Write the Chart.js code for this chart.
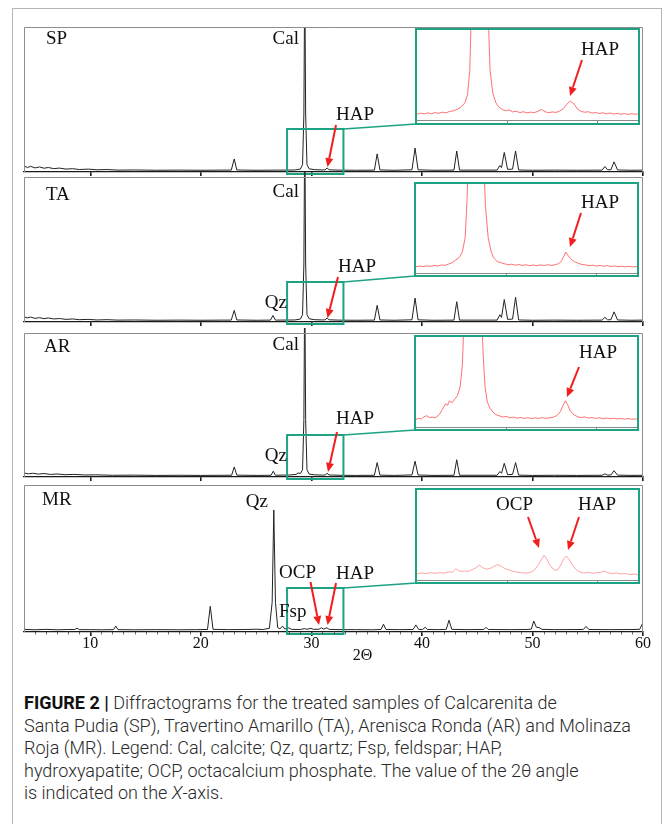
<!DOCTYPE html>
<html>
<head>
<meta charset="utf-8">
<script src="https://cdn.jsdelivr.net/npm/chart.js@4.4.1/dist/chart.umd.min.js"></script>
<style>
  html, body { margin: 0; padding: 0; background: #fff; }
  #figure { position: relative; width: 663px; height: 824px; overflow: hidden; }
  #frame { position: absolute; left: 12px; top: 8px; width: 650px; height: 900px;
           border: 1.5px solid #b5b5b5; box-sizing: border-box; }
  #figure canvas { position: absolute; }
  #caption { position: absolute; left: 24px; top: 692px; white-space: nowrap;
             font-family: Roboto, 'Liberation Sans', sans-serif; font-weight: 300;
             font-size: 18.5px; line-height: 22.5px; color: #2a2a2a; transform-origin: 0 0; }
  #caption b { font-weight: 700; color: #111; }
</style>
</head>
<body>
<div id="figure">
  <div id="frame"></div>
  <div id="caption">
    <div class="ln"><b>FIGURE 2 |</b> Diffractograms for the treated samples of Calcarenita de</div>
    <div class="ln" id="capWide">Santa Pudia (SP), Travertino Amarillo (TA), Arenisca Ronda (AR) and Molinaza</div>
    <div class="ln">Roja (MR). Legend: Cal, calcite; Qz, quartz; Fsp, feldspar; HAP,</div>
    <div class="ln">hydroxyapatite; OCP, octacalcium phosphate. The value of the 2θ angle</div>
    <div class="ln">is indicated on the <i>X</i>-axis.</div>
  </div>
</div>
<script>
// diffractograms, [2θ (deg), intensity (% of panel height)]
const spScan = [
  [4.0, 4.2], [4.3, 3.1], [4.6, 3.9], [5.0, 2.8], [5.4, 3.5], [5.8, 2.6], [6.2, 3.1], [6.7, 2.3],
  [7.2, 2.7], [7.8, 2.0], [8.4, 2.3], [9.0, 1.7], [9.8, 2.0], [10.6, 1.5], [11.5, 1.7], [12.5, 1.3],
  [14.0, 1.4], [16.0, 1.2], [18.0, 1.3], [20.0, 1.2], [22.0, 1.3], [22.75, 1.3], [23.02, 9.0],
  [23.25, 1.4], [25.0, 1.2], [27.0, 1.3], [28.5, 1.4], [29.0, 2.0], [29.2, 5.0], [29.32, 40],
  [29.4, 140], [29.48, 40], [29.6, 5.0], [29.8, 2.2], [30.3, 1.6], [31.0, 1.4], [31.25, 1.5],
  [31.42, 2.8], [31.6, 1.5], [32.5, 1.3], [34.0, 1.2], [35.7, 1.3], [35.95, 12.5], [36.2, 1.4],
  [37.5, 1.2], [39.1, 1.5], [39.38, 16.5], [39.65, 1.5], [41.0, 1.2], [42.9, 1.3], [43.15, 14.5],
  [43.4, 1.3], [46.8, 1.3], [47.05, 4.5], [47.2, 3.0], [47.45, 13.5], [47.75, 1.8], [48.2, 2.0],
  [48.47, 14.5], [48.75, 1.4], [50.0, 1.2], [52.0, 1.3], [54.0, 1.2], [56.3, 1.3], [56.55, 3.8],
  [56.8, 1.5], [57.1, 1.6], [57.38, 7.0], [57.7, 1.4], [59.0, 1.2], [60.0, 1.3]
];
const taScan = [
  [4.0, 3.6], [4.3, 2.8], [4.6, 3.4], [5.0, 2.5], [5.4, 3.0], [5.8, 2.3], [6.2, 2.8], [6.7, 2.1],
  [7.2, 2.4], [7.8, 1.8], [8.4, 2.1], [9.0, 1.6], [9.8, 1.8], [10.6, 1.4], [11.5, 1.6], [12.5, 1.3],
  [14.0, 1.4], [16.0, 1.2], [18.0, 1.3], [20.0, 1.2], [22.0, 1.3], [22.75, 1.3], [23.02, 8.0],
  [23.25, 1.4], [25.0, 1.2], [26.3, 1.3], [26.52, 4.5], [26.75, 1.3], [28.5, 1.4], [29.0, 2.0],
  [29.2, 5.0], [29.32, 40], [29.4, 140], [29.48, 40], [29.6, 5.0], [29.8, 2.2], [30.3, 1.6],
  [31.0, 1.4], [31.25, 1.5], [31.42, 2.8], [31.6, 1.5], [32.5, 1.3], [34.0, 1.2], [35.7, 1.3],
  [35.95, 11.5], [36.2, 1.4], [37.5, 1.2], [39.1, 1.5], [39.38, 16.5], [39.65, 1.5], [41.0, 1.2],
  [42.9, 1.3], [43.15, 14.0], [43.4, 1.3], [46.8, 1.3], [47.05, 5.0], [47.2, 3.2], [47.45, 15.5],
  [47.75, 1.8], [48.2, 2.0], [48.47, 17.0], [48.75, 1.4], [50.0, 1.2], [52.0, 1.3], [54.0, 1.2],
  [56.3, 1.3], [56.55, 3.2], [56.8, 1.5], [57.1, 1.6], [57.38, 7.0], [57.7, 1.4], [59.0, 1.2],
  [60.0, 1.3]
];
const arScan = [
  [4.0, 2.8], [4.4, 2.2], [4.8, 2.6], [5.3, 2.0], [5.8, 2.4], [6.4, 1.8], [7.0, 2.1], [7.7, 1.6],
  [8.5, 1.8], [9.5, 1.4], [10.5, 1.5], [12.0, 1.2], [14.0, 1.3], [16.0, 1.1], [18.0, 1.2],
  [20.0, 1.1], [22.0, 1.2], [22.78, 1.2], [23.02, 7.0], [23.25, 1.3], [25.0, 1.1], [26.35, 1.2],
  [26.55, 4.0], [26.75, 1.2], [28.0, 1.4], [28.6, 1.8], [28.8, 2.8], [29.0, 2.4], [29.2, 5.0],
  [29.32, 40], [29.4, 140], [29.48, 40], [29.6, 5.0], [29.8, 2.0], [30.3, 1.5], [31.0, 1.3],
  [31.25, 1.4], [31.42, 2.6], [31.6, 1.4], [32.5, 1.2], [34.0, 1.1], [35.7, 1.2], [35.95, 10.0],
  [36.2, 1.3], [37.5, 1.1], [39.1, 1.4], [39.38, 11.0], [39.65, 1.4], [41.0, 1.1], [42.9, 1.2],
  [43.15, 12.0], [43.4, 1.2], [46.8, 1.2], [47.05, 3.8], [47.2, 2.6], [47.45, 9.5], [47.75, 1.6],
  [48.2, 1.8], [48.47, 10.0], [48.75, 1.3], [50.0, 1.1], [52.0, 1.2], [54.0, 1.1], [56.3, 1.2],
  [56.55, 2.2], [56.8, 1.3], [57.1, 1.4], [57.38, 4.4], [57.7, 1.3], [59.0, 1.1], [60.0, 1.2]
];
const mrScan = [
  [4.0, 1.8], [5.0, 1.5], [6.0, 1.8], [7.0, 1.5], [8.0, 1.7], [8.6, 1.7], [8.8, 2.6], [9.0, 1.6],
  [10.0, 1.6], [11.0, 1.5], [12.1, 1.6], [12.3, 4.0], [12.5, 1.6], [14.0, 1.5], [16.0, 1.6],
  [18.0, 1.5], [19.5, 1.6], [20.6, 1.7], [20.85, 17.5], [21.1, 1.8], [22.5, 1.6], [24.0, 1.7],
  [25.0, 1.9], [25.6, 1.7], [26.2, 2.5], [26.45, 20], [26.6, 83], [26.75, 20], [26.95, 3.0],
  [27.15, 2.2], [27.4, 4.0], [27.6, 2.0], [27.95, 2.8], [28.2, 1.8], [29.0, 1.7], [29.4, 2.3],
  [29.6, 1.8], [29.95, 2.5], [30.2, 1.8], [30.7, 1.9], [30.9, 2.9], [31.1, 2.0], [31.4, 2.9],
  [31.6, 1.8], [32.5, 1.6], [34.0, 1.6], [35.5, 1.5], [36.3, 1.7], [36.52, 5.3], [36.75, 1.7],
  [38.0, 1.6], [39.2, 1.7], [39.45, 4.8], [39.7, 1.8], [40.05, 1.7], [40.3, 3.2], [40.5, 1.7],
  [41.5, 1.6], [42.2, 1.8], [42.45, 8.0], [42.7, 1.8], [44.0, 1.6], [45.6, 1.7], [45.8, 3.2],
  [46.0, 1.7], [48.0, 1.6], [49.5, 1.7], [49.9, 2.0], [50.12, 7.5], [50.35, 3.2], [50.6, 3.0],
  [50.85, 1.8], [52.0, 1.6], [54.6, 1.7], [54.85, 3.8], [55.1, 1.7], [57.0, 1.6], [59.0, 1.7],
  [59.7, 1.8], [59.97, 6.0], [60.0, 6.0]
];

// enlarged 28–33° windows
const spZoom = [
  [28.0, 6.5], [28.08, 7.6], [28.16, 6.8], [28.24, 7.9], [28.32, 7.0], [28.4, 8.2], [28.48, 7.4],
  [28.56, 8.6], [28.64, 8.0], [28.72, 9.4], [28.8, 10.2], [28.9, 12.0], [28.98, 14.5], [29.06, 19],
  [29.12, 28], [29.17, 55], [29.21, 130], [29.57, 130], [29.62, 55], [29.68, 30], [29.75, 19],
  [29.82, 14], [29.9, 11.5], [29.98, 10.4], [30.04, 11.2], [30.12, 9.0], [30.2, 9.8], [30.28, 8.2],
  [30.36, 9.2], [30.44, 7.9], [30.52, 8.8], [30.6, 8.1], [30.68, 9.6], [30.76, 11.8], [30.84, 9.2],
  [30.92, 8.0], [31.0, 9.0], [31.08, 8.4], [31.16, 9.8], [31.24, 12.5], [31.32, 17.5], [31.4, 21],
  [31.48, 18], [31.56, 12], [31.64, 9.5], [31.72, 8.6], [31.8, 9.2], [31.88, 7.6], [31.96, 8.4],
  [32.04, 7.2], [32.12, 8.0], [32.2, 6.9], [32.28, 7.7], [32.36, 6.6], [32.44, 7.4], [32.52, 6.4],
  [32.6, 7.2], [32.68, 6.2], [32.76, 7.0], [32.84, 6.3], [32.9, 6.8]
];
const taZoom = [
  [28.0, 7.0], [28.08, 7.8], [28.16, 7.2], [28.24, 8.1], [28.32, 7.5], [28.4, 8.4], [28.48, 7.9],
  [28.56, 9.0], [28.64, 8.6], [28.72, 10.0], [28.8, 11.5], [28.88, 14.5], [28.96, 17.5], [29.03, 24],
  [29.09, 40], [29.13, 80], [29.16, 130], [29.5, 130], [29.54, 75], [29.6, 40], [29.66, 25],
  [29.72, 17], [29.8, 13], [29.88, 11.5], [29.96, 10.5], [30.04, 9.2], [30.12, 9.9], [30.2, 8.8],
  [30.28, 9.5], [30.36, 8.5], [30.44, 9.2], [30.52, 8.3], [30.6, 9.0], [30.68, 8.2], [30.76, 9.1],
  [30.84, 8.4], [30.92, 9.3], [31.0, 8.5], [31.08, 9.2], [31.16, 10.5], [31.22, 13], [31.28, 19],
  [31.32, 23.5], [31.38, 19], [31.45, 15], [31.52, 12.5], [31.6, 10.8], [31.68, 9.6], [31.76, 9.0],
  [31.84, 8.2], [31.92, 8.8], [32.0, 7.8], [32.08, 8.5], [32.16, 7.6], [32.24, 8.2], [32.32, 7.3],
  [32.4, 8.0], [32.48, 7.1], [32.56, 7.7], [32.64, 6.9], [32.72, 7.5], [32.8, 6.8], [32.9, 7.2]
];
const arZoom = [
  [28.0, 8.5], [28.06, 9.6], [28.12, 9.0], [28.18, 11.5], [28.24, 12.5], [28.3, 10.5], [28.36, 11.0],
  [28.42, 10.2], [28.48, 12.0], [28.54, 15.5], [28.6, 21], [28.66, 26], [28.7, 24], [28.74, 29],
  [28.8, 27], [28.86, 31], [28.92, 35], [28.98, 45], [29.03, 70], [29.07, 130], [29.45, 130],
  [29.49, 80], [29.53, 45], [29.58, 28], [29.64, 21], [29.7, 17], [29.76, 14], [29.84, 12.5],
  [29.92, 11.0], [30.0, 11.8], [30.08, 10.2], [30.16, 11.0], [30.24, 9.8], [30.32, 10.6], [30.4, 9.6],
  [30.48, 10.3], [30.56, 9.4], [30.64, 10.2], [30.72, 9.5], [30.8, 10.4], [30.88, 9.6], [30.96, 10.2],
  [31.04, 10.8], [31.12, 12.5], [31.2, 17], [31.27, 25], [31.31, 29], [31.36, 25], [31.42, 18],
  [31.5, 13.5], [31.58, 11.5], [31.66, 10.5], [31.74, 11.2], [31.82, 9.8], [31.9, 10.6], [31.98, 9.5],
  [32.06, 10.3], [32.14, 9.2], [32.22, 10.0], [32.3, 9.1], [32.38, 9.8], [32.46, 8.9], [32.54, 9.6],
  [32.62, 8.7], [32.7, 9.4], [32.78, 8.6], [32.9, 9.0]
];
const mrZoom = [
  [28.0, 7.0], [28.1, 7.8], [28.2, 7.2], [28.3, 8.0], [28.4, 7.4], [28.5, 8.2], [28.6, 7.6],
  [28.7, 9.0], [28.78, 8.6], [28.86, 12.5], [28.92, 10.5], [28.98, 9.5], [29.06, 10.0], [29.14, 9.6],
  [29.22, 11.5], [29.3, 13.5], [29.38, 16.5], [29.46, 13.5], [29.54, 12.0], [29.62, 12.8], [29.7, 15.0],
  [29.78, 17.0], [29.86, 15.5], [29.94, 13.0], [30.04, 11.0], [30.14, 9.5], [30.24, 8.6], [30.34, 8.0],
  [30.44, 7.6], [30.54, 9.0], [30.62, 12.0], [30.7, 17.5], [30.76, 23.0], [30.82, 27.5], [30.88, 23.0],
  [30.95, 16.5], [31.02, 12.0], [31.08, 10.5], [31.14, 12.5], [31.2, 18.0], [31.26, 24.0], [31.31, 26.5],
  [31.37, 23.0], [31.44, 17.0], [31.52, 12.0], [31.6, 9.0], [31.7, 7.8], [31.8, 8.4], [31.9, 7.6],
  [32.0, 8.2], [32.08, 8.6], [32.15, 10.0], [32.22, 8.2], [32.32, 7.2], [32.42, 7.8], [32.52, 6.6],
  [32.62, 7.2], [32.72, 6.0], [32.82, 6.6], [32.9, 5.8]
];

const twoThetaRange = [4, 60];
const zoomRange = [28, 32.9];
const zoomBox = [27.8, 32.9];
const axisTicks = [10, 20, 30, 40, 50, 60];
const zoomTicks = [30, 32];

const SERIF = "'Liberation Serif', 'Times New Roman', serif";
const GREEN = '#1da383';
const RED = '#f21d1d';
const MAIN_LEFT = 14, MAIN_WIDTH = 640, PAD_TOP = 8;

// page layout of the four stacked panels and their insets
const panels = [
  { scan: spScan, zoom: spZoom, clipTop: 0, top: 27, bottom: 172, boxRise: 43,
    inset: { left: 415, top: 28, width: 225, height: 97, axis: 5 },
    labels: [['SP', 22, 12, 'left'], ['Cal', 275, 12, 'right'], ['HAP', 312, 88, 'left']],
    arrows: [[312, 98, 303.5, 140]],
    zoomLabels: [['HAP', 166, 22]], zoomArrows: [[167, 32, 155, 68]],
    zoomColor: 'rgba(255, 80, 80, 0.9)' },
  { scan: taScan, zoom: taZoom, clipTop: 5, top: 177, bottom: 322, boxRise: 40,
    inset: { left: 414, top: 182, width: 225, height: 95, axis: 4 },
    labels: [['TA', 22, 18, 'left'], ['Cal', 275, 15, 'right'], ['Qz', 263, 126, 'right'], ['HAP', 314, 90, 'left']],
    arrows: [[314, 100, 303.5, 141]],
    zoomLabels: [['HAP', 167, 21]], zoomArrows: [[167, 31, 156, 65]],
    zoomColor: 'rgba(255, 80, 80, 0.9)' },
  { scan: arScan, zoom: arZoom, clipTop: 5, top: 333, bottom: 477, boxRise: 42,
    inset: { left: 414, top: 335, width: 225, height: 96, axis: 4 },
    labels: [['AR', 20, 14, 'left'], ['Cal', 275, 12, 'right'], ['Qz', 263, 123, 'right'], ['HAP', 312, 86, 'left']],
    arrows: [[313, 99, 304, 139]],
    zoomLabels: [['HAP', 165, 18]], zoomArrows: [[165, 32, 153, 62]],
    zoomColor: 'rgba(255, 80, 80, 0.9)' },
  { scan: mrScan, zoom: mrZoom, clipTop: 0, top: 485, bottom: 632, boxRise: 44,
    inset: { left: 415, top: 488, width: 225, height: 96, axis: 4 },
    labels: [['MR', 18, 15, 'left'], ['Qz', 244, 17, 'right'], ['OCP', 255, 88, 'left'],
             ['HAP', 312, 89, 'left'], ['Fsp', 255, 127, 'left']],
    arrows: [[286.5, 97, 295, 140], [312, 98, 303.5, 140]],
    zoomLabels: [['OCP', 81, 17], ['HAP', 163, 17]], zoomArrows: [[113, 29, 124, 60], [164, 29, 153, 62]],
    zoomColor: 'rgba(255, 110, 110, 0.7)' }
];

function drawArrow(ctx, x1, y1, x2, y2) {
  const a = Math.atan2(y2 - y1, x2 - x1);
  const head = 9, half = 4;
  const bx = x2 - head * Math.cos(a), by = y2 - head * Math.sin(a);
  ctx.save();
  ctx.strokeStyle = RED;
  ctx.fillStyle = RED;
  ctx.lineWidth = 2;
  ctx.beginPath();
  ctx.moveTo(x1, y1);
  ctx.lineTo(bx, by);
  ctx.stroke();
  ctx.beginPath();
  ctx.moveTo(x2, y2);
  ctx.lineTo(bx + half * Math.sin(a), by - half * Math.cos(a));
  ctx.lineTo(bx - half * Math.sin(a), by + half * Math.cos(a));
  ctx.closePath();
  ctx.fill();
  ctx.restore();
}

function drawLabel(ctx, text, x, y, align) {
  ctx.save();
  ctx.font = '19px ' + SERIF;
  ctx.fillStyle = '#111';
  ctx.textAlign = align || 'left';
  ctx.textBaseline = 'middle';
  ctx.fillText(text, x, y);
  ctx.restore();
}

const fig = document.getElementById('figure');

function addCanvas(left, top, width, height) {
  const c = document.createElement('canvas');
  c.width = width;
  c.height = height;
  c.style.left = left + 'px';
  c.style.top = top + 'px';
  c.style.width = width + 'px';
  c.style.height = height + 'px';
  fig.appendChild(c);
  return c;
}

function toPoints(rows) {
  return rows.map(r => ({ x: r[0], y: r[1] }));
}

panels.forEach((p, i) => {
  const last = i === panels.length - 1;
  const axisH = last ? 34 : 6;
  const canvasTop = p.top - PAD_TOP;
  const canvas = addCanvas(MAIN_LEFT, canvasTop, MAIN_WIDTH, PAD_TOP + (p.bottom - p.top) + axisH);

  const decorations = {
    id: 'decorations',
    afterDraw(chart) {
      const { ctx, chartArea: a, scales: { x } } = chart;
      ctx.save();
      // grey frame, the axis line itself comes from the x scale border
      ctx.strokeStyle = '#8d8d8d';
      ctx.lineWidth = 1;
      ctx.beginPath();
      ctx.moveTo(a.left + 0.5, a.bottom);
      ctx.lineTo(a.left + 0.5, a.top + 0.5);
      ctx.lineTo(a.right - 0.5, a.top + 0.5);
      ctx.lineTo(a.right - 0.5, a.bottom);
      ctx.stroke();

      // small box around the enlarged window + connector to the inset
      const bx1 = x.getPixelForValue(zoomBox[0]);
      const bx2 = x.getPixelForValue(zoomBox[1]);
      const by1 = a.bottom - p.boxRise;
      const by2 = a.bottom + 2;
      ctx.strokeStyle = GREEN;
      ctx.lineWidth = 2;
      ctx.strokeRect(bx1, by1, bx2 - bx1, by2 - by1);
      ctx.lineWidth = 1.6;
      ctx.beginPath();
      ctx.moveTo(bx2, by1);
      ctx.lineTo(p.inset.left - MAIN_LEFT + 1, p.inset.top + p.inset.height - canvasTop - 1);
      ctx.stroke();

      if (last) {
        // minor ticks every degree
        ctx.strokeStyle = '#444';
        ctx.lineWidth = 0.8;
        for (let v = 5; v < 60; v++) {
          if (v % 10 === 0) continue;
          const px = Math.round(x.getPixelForValue(v)) + 0.5;
          ctx.beginPath();
          ctx.moveTo(px, a.bottom);
          ctx.lineTo(px, a.bottom + 2.5);
          ctx.stroke();
        }
        ctx.font = '16px ' + SERIF;
        ctx.fillStyle = '#111';
        ctx.textAlign = 'center';
        ctx.textBaseline = 'middle';
        ctx.fillText('2Θ', 362.5 - MAIN_LEFT, 656 - canvasTop);
      }
      ctx.restore();

      p.labels.forEach(l => drawLabel(ctx, l[0], a.left + l[1], a.top + l[2], l[3]));
      p.arrows.forEach(r => drawArrow(ctx, a.left + r[0], a.top + r[1], a.left + r[2], a.top + r[3]));
    }
  };

  new Chart(canvas, {
    type: 'scatter',
    data: {
      datasets: [{
        data: toPoints(p.scan),
        showLine: true,
        borderColor: '#222',
        borderWidth: 1,
        pointRadius: 0,
        tension: 0,
        clip: { left: 0, right: 0, top: p.clipTop, bottom: 0 }
      }]
    },
    options: {
      responsive: false,
      animation: false,
      events: [],
      devicePixelRatio: 1,
      layout: { padding: { left: 10, right: 11, top: PAD_TOP, bottom: 0 } },
      plugins: { legend: { display: false }, tooltip: { enabled: false } },
      scales: {
        x: {
          type: 'linear',
          min: twoThetaRange[0],
          max: twoThetaRange[1],
          afterBuildTicks: s => { s.ticks = axisTicks.map(v => ({ value: v })); },
          afterFit: s => { s.height = axisH; },
          border: { display: true, color: '#1a1a1a', width: 1.3 },
          grid: { drawOnChartArea: false, drawTicks: true, tickLength: 4, color: '#1a1a1a', lineWidth: 1.6 },
          ticks: {
            display: last,
            autoSkip: false,
            maxRotation: 0,
            padding: -2,
            color: '#111',
            font: { family: SERIF, size: 16 }
          }
        },
        y: { display: false, min: 0, max: 100 }
      }
    },
    plugins: [decorations]
  });

  // enlarged window
  const ins = p.inset;
  const insetCanvas = addCanvas(ins.left, ins.top, ins.width, ins.height);
  const insetDecor = {
    id: 'insetDecor',
    afterDraw(chart) {
      const { ctx } = chart;
      ctx.save();
      ctx.strokeStyle = GREEN;
      ctx.lineWidth = 2;
      ctx.strokeRect(1, 1, ins.width - 2, ins.height - 2);
      ctx.restore();
      p.zoomLabels.forEach(l => drawLabel(ctx, l[0], l[1], l[2], 'left'));
      p.zoomArrows.forEach(r => drawArrow(ctx, r[0], r[1], r[2], r[3]));
    }
  };
  new Chart(insetCanvas, {
    type: 'scatter',
    data: {
      datasets: [{
        data: toPoints(p.zoom),
        showLine: true,
        borderColor: p.zoomColor,
        borderWidth: 0.9,
        pointRadius: 0,
        tension: 0
      }]
    },
    options: {
      responsive: false,
      animation: false,
      events: [],
      devicePixelRatio: 1,
      layout: { padding: { left: 2, right: 2, top: 2, bottom: 0 } },
      plugins: { legend: { display: false }, tooltip: { enabled: false } },
      scales: {
        x: {
          type: 'linear',
          min: zoomRange[0],
          max: zoomRange[1],
          afterBuildTicks: s => { s.ticks = zoomTicks.map(v => ({ value: v })); },
          afterFit: s => { s.height = ins.axis; },
          border: { display: true, color: '#8a8a8a', width: 1 },
          grid: { drawOnChartArea: false, drawTicks: true, tickLength: 3, color: '#8a8a8a', lineWidth: 1 },
          ticks: { display: false }
        },
        y: { display: false, min: 0, max: 100 }
      }
    },
    plugins: [insetDecor]
  });
});

// squeeze the caption to the column width
function fitCaption() {
  const cap = document.getElementById('caption');
  cap.style.transform = 'none';
  const w = document.getElementById('capWide').getBoundingClientRect().width;
  if (w > 0) cap.style.transform = 'scaleX(' + (607 / w) + ')';
}
fitCaption();
if (document.fonts && document.fonts.ready) document.fonts.ready.then(fitCaption);
</script>
</body>
</html>
